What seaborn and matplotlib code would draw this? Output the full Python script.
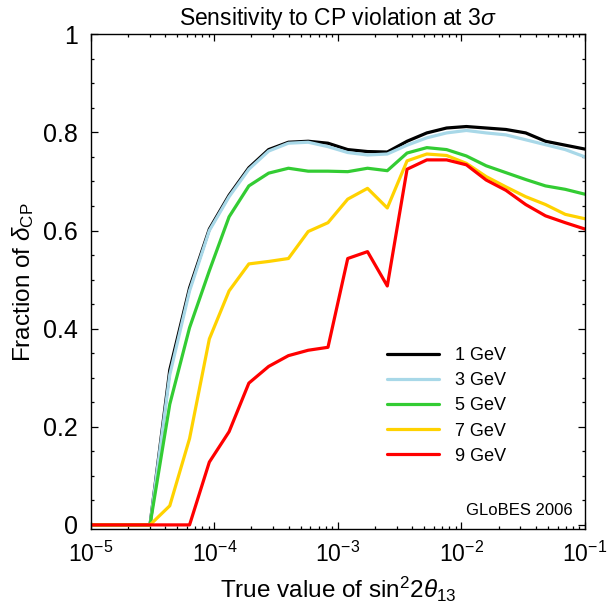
import matplotlib
matplotlib.use('Agg')
import matplotlib.pyplot as plt
import matplotlib.ticker as mticker
import matplotlib.transforms as mtransforms
import seaborn as sns
import pandas as pd

# true value of sin^2 2theta13 (sample grid)
theta13 = [1.0e-5, 1.445e-5, 2.089e-5, 3.020e-5, 4.365e-5, 6.310e-5, 9.120e-5,
           1.318e-4, 1.905e-4, 2.754e-4, 3.981e-4, 5.754e-4, 8.318e-4,
           1.202e-3, 1.738e-3, 2.512e-3, 3.631e-3, 5.248e-3, 7.586e-3,
           1.096e-2, 1.585e-2, 2.291e-2, 3.311e-2, 4.786e-2, 6.918e-2, 1.0e-1]

frac_1gev = [0, 0, 0, 0, 0.316, 0.483, 0.603, 0.672, 0.728, 0.765, 0.780, 0.782, 0.778,
             0.765, 0.761, 0.760, 0.782, 0.799, 0.809, 0.812, 0.809, 0.806, 0.799,
             0.782, 0.774, 0.766]
frac_3gev = [0, 0, 0, 0, 0.306, 0.477, 0.600, 0.669, 0.725, 0.762, 0.778, 0.780, 0.771,
             0.759, 0.754, 0.756, 0.774, 0.789, 0.799, 0.804, 0.799, 0.795, 0.785,
             0.775, 0.765, 0.750]
frac_5gev = [0, 0, 0, 0, 0.246, 0.402, 0.518, 0.628, 0.691, 0.717, 0.727, 0.721, 0.721,
             0.720, 0.727, 0.722, 0.758, 0.769, 0.765, 0.752, 0.732, 0.718, 0.704,
             0.691, 0.684, 0.674]
frac_7gev = [0, 0, 0, 0, 0.039, 0.176, 0.379, 0.477, 0.532, 0.537, 0.543, 0.598, 0.616,
             0.664, 0.686, 0.646, 0.742, 0.756, 0.753, 0.737, 0.710, 0.689, 0.669,
             0.653, 0.633, 0.624]
frac_9gev = [0, 0, 0, 0, 0, 0, 0.128, 0.190, 0.289, 0.323, 0.345, 0.356, 0.362,
             0.543, 0.557, 0.487, 0.725, 0.744, 0.744, 0.734, 0.703, 0.682, 0.653,
             0.630, 0.616, 0.603]

labels = ['1 GeV', '3 GeV', '5 GeV', '7 GeV', '9 GeV']
series = [frac_1gev, frac_3gev, frac_5gev, frac_7gev, frac_9gev]
colors = ['#000000', '#a8d8e8', '#33cc33', '#ffd200', '#ff0000']

rows = []
for lab, vals in zip(labels, series):
    for x, y in zip(theta13, vals):
        rows.append({'theta13': x, 'frac': y, 'energy': lab})
df = pd.DataFrame(rows)

sns.set_style('ticks')
plt.rcParams['font.family'] = ['Liberation Sans', 'DejaVu Sans']
plt.rcParams['mathtext.fontset'] = 'custom'
plt.rcParams['mathtext.rm'] = 'Liberation Sans'
plt.rcParams['mathtext.it'] = 'Liberation Sans:italic'
for key in ['text.color', 'axes.labelcolor', 'xtick.color', 'ytick.color',
            'axes.edgecolor']:
    plt.rcParams[key] = 'black'

fig = plt.figure(figsize=(6.07, 6.05), dpi=100)
ax = fig.add_axes([0.1494, 0.1251, 0.8144, 0.8182])

for lab, col in zip(labels, colors):
    sns.lineplot(data=df[df['energy'] == lab], x='theta13', y='frac',
                 color=col, linewidth=2.3, label=lab, ax=ax)

ax.set_xscale('log')
ax.set_xlim(1e-5, 1e-1)
ax.set_ylim(-0.009, 1.0)
ax.set_yticks([0, 0.2, 0.4, 0.6, 0.8, 1.0])
ax.set_yticklabels(['0', '0.2', '0.4', '0.6', '0.8', '1'])
ax.yaxis.set_minor_locator(mticker.MultipleLocator(0.05))
ax.xaxis.set_major_locator(mticker.LogLocator(base=10))
ax.xaxis.set_minor_locator(mticker.LogLocator(base=10, subs=range(2, 10)))
ax.xaxis.set_minor_formatter(mticker.NullFormatter())

ax.tick_params(which='both', direction='in', top=True, right=True, width=0.9)
ax.tick_params(axis='y', labelsize=18)
ax.tick_params(axis='x', labelsize=16.5)
ax.tick_params(which='major', length=5, pad=9)
ax.tick_params(which='minor', length=2.5)
for sp in ax.spines.values():
    sp.set_linewidth(1.0)

ax.set_title(r'Sensitivity to CP violation at 3$\sigma$', fontsize=16.5, pad=7)
ax.set_xlabel(r'True value of sin$^2$2$\theta_{13}$', fontsize=17.5, labelpad=6)
ax.set_ylabel(r'Fraction of $\delta_{\rm CP}$', fontsize=17.5, labelpad=5)

ax.legend(loc='upper left', bbox_to_anchor=(0.599, 0.368), frameon=False,
          fontsize=13, handlelength=2.9, handletextpad=0.9, labelspacing=0.45,
          borderpad=0, borderaxespad=0)

ax.text(0.975, 0.039, 'GLoBES 2006', transform=ax.transAxes, ha='right',
        va='center', fontsize=12)

# nudge the last x tick label so it stays inside the figure
fig.canvas.draw()
last = [t for t in ax.get_xticklabels() if t.get_text()][-1]
last.set_transform(last.get_transform() +
                   mtransforms.ScaledTranslation(-4 / 100, 0, fig.dpi_scale_trans))

fig.savefig('out.png', dpi=100)
